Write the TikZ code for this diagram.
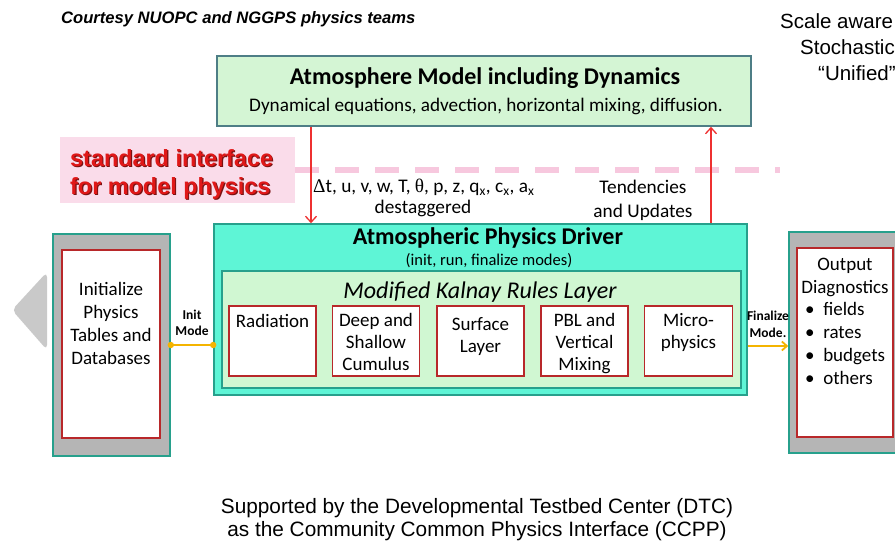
\documentclass[tikz,border=0pt]{standalone}
\usepackage{fontspec}
\setmainfont{Carlito}
\newfontfamily\arial{Liberation Sans}
\newfontfamily\tms{Liberation Serif}
\usetikzlibrary{arrows.meta}
\definecolor{topfill}{HTML}{D4F5D4}
\definecolor{topdraw}{HTML}{4E7E86}
\definecolor{drvfill}{HTML}{5EF5D6}
\definecolor{drvdraw}{HTML}{27A08C}
\definecolor{layfill}{HTML}{D0F7D2}
\definecolor{boxred}{HTML}{B8282A}
\definecolor{greyfill}{HTML}{B5B5B5}
\definecolor{trigrey}{HTML}{C9C9C9}
\definecolor{pinkfill}{HTML}{FADCEA}
\definecolor{pinkdash}{HTML}{F7C8DE}
\definecolor{arrred}{HTML}{EE3030}
\definecolor{yel}{HTML}{F4B400}
\definecolor{stdred}{HTML}{E01818}
\definecolor{stdshadow}{HTML}{7A1212}
\tikzset{
  schemebox/.style={draw=boxred, line width=1.6pt, fill=white, minimum width=87pt, minimum height=70pt, inner sep=0pt},
  schemetxt/.style={font=\fontsize{19}{22}\selectfont, align=center, inner sep=0pt},
  outerbox/.style={draw=drvdraw, line width=1.6pt, fill=greyfill, inner sep=0pt},
  innerbox/.style={draw=boxred, line width=1.6pt, fill=white, inner sep=0pt},
  redarrow/.style={draw=arrred, line width=1.3pt, -{Straight Barb[length=6pt,width=11pt]}},
  smalllbl/.style={font=\bfseries\fontsize{13.5}{16.5}\selectfont, align=center, inner sep=0pt},
  sidetxt/.style={font=\fontsize{19}{23}\selectfont, inner sep=0pt},
}
\begin{document}
\begin{tikzpicture}[x=1pt,y=-1pt]
\useasboundingbox (0,0) rectangle (895,546);
\clip (0,0) rectangle (895,546);
\fill[white] (0,0) rectangle (895,546);

% credits
\node[font=\arial\bfseries\itshape\fontsize{16.6}{19}\selectfont, anchor=west, inner sep=0pt] (court) at (61,19) {Courtesy NUOPC and NGGPS physics teams};
\node[font=\arial\fontsize{20.5}{24}\selectfont, anchor=west, inner sep=0pt] (sc1) at (780,21) {Scale aware};
\node[font=\arial\fontsize{20.5}{24}\selectfont, anchor=west, inner sep=0pt] (sc2) at (800,47) {Stochastic};
\node[font=\arial\fontsize{20.5}{24}\selectfont, anchor=west, inner sep=0pt] (sc3) at (818,73) {“Unified”};

% pink interface band
\node[fill=pinkfill, minimum width=235pt, minimum height=66pt, inner sep=0pt] (pinkbox) at (177.5,170) {};
\draw[pinkdash, line width=6pt, dash pattern=on 24pt off 16pt] (pinkbox.east) -- (780,170);
\node[font=\arial\bfseries\fontsize{23.4}{28}\selectfont, text=stdshadow, align=left, anchor=west, inner sep=0pt] at (71.2,175.2) {standard interface\\for model physics};
\node[font=\arial\bfseries\fontsize{23.4}{28}\selectfont, text=stdred, align=left, anchor=west, inner sep=0pt] (stdtxt) at (70,174) {standard interface\\for model physics};

% top box
\node[draw=topdraw, line width=1.6pt, fill=topfill, minimum width=534pt, minimum height=70pt, inner sep=0pt] (top) at (484,91) {};
\node[font=\bfseries\fontsize{24}{28}\selectfont, inner sep=0pt] (toptitle) at (485,78) {Atmosphere Model including Dynamics};
\node[font=\fontsize{19.2}{22}\selectfont, inner sep=0pt] (topsub) at (486,106) {Dynamical equations, advection, horizontal mixing, diffusion.};

% driver box
\node[draw=drvdraw, line width=1.6pt, fill=drvfill, minimum width=533pt, minimum height=171pt, inner sep=0pt] (drv) at (480.5,309.5) {};
\node[font=\bfseries\fontsize{24}{28}\selectfont, inner sep=0pt] (drvtitle) at (488,238) {Atmospheric Physics Driver};
\node[font=\fontsize{16.5}{20}\selectfont, inner sep=0pt] (drvsub) at (489,261) {(init, run, finalize modes)};

% layer box
\node[draw=drvdraw, line width=1.6pt, fill=layfill, minimum width=519pt, minimum height=117pt, inner sep=0pt] (lay) at (481.5,329.5) {};
\node[font=\itshape\fontsize{24}{28}\selectfont, inner sep=0pt] (laytitle) at (480,292) {Modified Kalnay Rules Layer};

% schemes
\node[schemebox] (rad) at (272.5,341) {};
\node[schemebox] (cum) at (376,341) {};
\node[schemebox] (sfc) at (480.5,341) {};
\node[schemebox] (pbl) at (584.5,341) {};
\node[schemebox, minimum width=88pt] (mic) at (688.5,341) {};
\node[schemetxt] (radt) at (272.5,321) {Radiation};
\node[schemetxt] (cumt) at (376,342) {Deep and\\Shallow\\Cumulus};
\node[schemetxt] (sfct) at (480.5,337) {Surface\\Layer};
\node[schemetxt] (pblt) at (584.5,343.5) {PBL and\\Vertical\\Mixing};
\node[schemetxt] (mict) at (688.5,332) {Micro-\\physics};

% left side
\fill[trigrey, rounded corners=5pt] (12,310) -- (47,272) -- (47,350) -- cycle;
\node[outerbox, minimum width=117pt, minimum height=222pt] (lout) at (111.5,345) {};
\node[innerbox, minimum width=98pt, minimum height=188pt] (lin) at (111,344) {};
\node[sidetxt, align=center] (lintxt) at (111,323.5) {Initialize\\Physics\\Tables and\\Databases};

% right side
\node[outerbox, minimum width=114pt, minimum height=221pt] (rout) at (846,342.5) {};
\node[innerbox, minimum width=96pt, minimum height=189pt] (rin) at (845,342.5) {};
\node[sidetxt, align=center] (routt) at (845,277.5) {Output\\Diagnostics};
\node[sidetxt, align=left, anchor=north west] (rlist) at (805,302) {\textbullet\ \ fields\\\textbullet\ \ rates\\\textbullet\ \ budgets\\\textbullet\ \ others};

% init mode
\coordinate (initl) at (lout.east |- 0,345);
\coordinate (initr) at (drv.west |- 0,345);
\draw[yel, line width=1.8pt] (initl) -- (initr);
\fill[yel] (initl) circle (3.2pt) (initr) circle (3.2pt);
\node[smalllbl] (initlbl) at (192,323) {Init\\Mode};

% finalize mode
\draw[yel, line width=1.8pt, -{Straight Barb[length=5pt,width=9pt]}] (drv.east |- 0,346) -- (rout.west |- 0,346);
\node[smalllbl] (finlbl) at (768,324.5) {Finalize\\Mode.};

% red arrows
\coordinate (dnx) at (311,0);
\coordinate (upx) at (711,0);
\draw[redarrow] (top.south -| dnx) -- (drv.north -| dnx);
\draw[redarrow] (drv.north -| upx) -- (top.south -| upx);
\node[font=\fontsize{19.3}{24}\selectfont, anchor=west, inner sep=0pt] (vars) at (313,187) {{\tms Δ}t, u, v, w, T, {\tms θ}, p, z, q\textsubscript{x}, c\textsubscript{x}, a\textsubscript{x}};
\node[font=\fontsize{19.3}{24}\selectfont, inner sep=0pt] (destag) at (423,208) {destaggered};
\node[font=\fontsize{19.3}{24}\selectfont, align=center, inner sep=0pt] (tend) at (643,200) {Tendencies\\and Updates};

% bottom text
\node[font=\arial\fontsize{20.8}{23}\selectfont, align=center, inner sep=0pt] (supp) at (477,519.5) {Supported by the Developmental Testbed Center (DTC)\\as the Community Common Physics Interface (CCPP)};
\end{tikzpicture}
\end{document}
